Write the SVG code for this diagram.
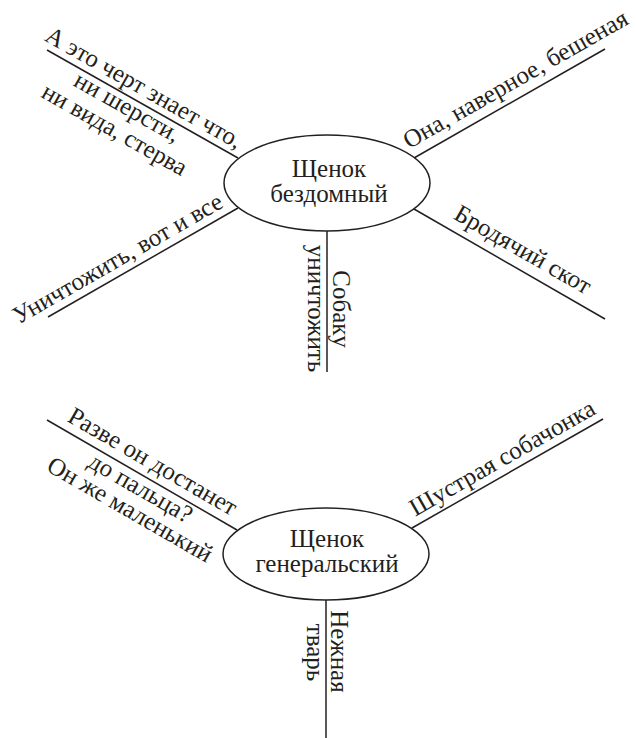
<svg xmlns="http://www.w3.org/2000/svg" width="636" height="738" viewBox="0 0 636 738" font-family="'Liberation Serif', 'Times New Roman', 'DejaVu Serif', serif" font-size="25">
<style>
  .bg { fill: #ffffff; }
  .node { fill: #ffffff; stroke: #231f20; stroke-width: 1.5; }
  .conn { stroke: #231f20; stroke-width: 1.5; fill: none; }
  .t { font-family: 'Liberation Serif', 'Times New Roman', 'DejaVu Serif', serif; font-size: 25px; fill: #231f20; text-anchor: middle; }
</style>
<rect class="bg" x="0" y="0" width="636" height="738"/>
<g id="connectors">
  <line class="conn" x1="47" y1="50" x2="238" y2="158"/>
  <line class="conn" x1="414" y1="158" x2="605" y2="49"/>
  <line class="conn" x1="238" y1="208" x2="48" y2="317"/>
  <line class="conn" x1="414" y1="209" x2="605" y2="319"/>
  <line class="conn" x1="327" y1="231" x2="327" y2="372"/>
  <line class="conn" x1="47" y1="420" x2="237" y2="530"/>
  <line class="conn" x1="412" y1="528" x2="603" y2="419"/>
  <line class="conn" x1="326" y1="600" x2="326" y2="738"/>
</g>
<g id="node-bezdomny">
  <ellipse class="node" cx="327" cy="183" rx="103" ry="48"/>
  <text class="t" x="329" y="177">Щенок</text>
  <text class="t" x="329" y="202">бездомный</text>
</g>
<g id="node-generalsky">
  <ellipse class="node" cx="326" cy="554" rx="103" ry="46"/>
  <text class="t" x="327" y="547">Щенок</text>
  <text class="t" x="327" y="572">генеральский</text>
</g>
<g id="labels">
  <text class="t" transform="translate(140,94.6) rotate(29.5)">А это черт знает что,</text>
  <text class="t" transform="translate(123.5,114) rotate(29.5)">ни шерсти,</text>
  <text class="t" transform="translate(110.7,136.5) rotate(29.5)">ни вида, стерва</text>
  <text class="t" transform="translate(519.4,86.3) rotate(-29.7)">Она, наверное, бешеная</text>
  <text class="t" transform="translate(121.5,265.6) rotate(-29.8)">Уничтожить, вот и все</text>
  <text class="t" transform="translate(519,256.6) rotate(29.9)">Бродячий скот</text>
  <text class="t" transform="translate(333,309) rotate(90)">Собаку</text>
  <text class="t" transform="translate(308,308.5) rotate(90)">уничтожить</text>
  <text class="t" transform="translate(148.7,468.5) rotate(30)">Разве он достанет</text>
  <text class="t" transform="translate(136.5,494.9) rotate(30)">до пальца?</text>
  <text class="t" transform="translate(125.9,516.5) rotate(30)">Он же маленький</text>
  <text class="t" transform="translate(506.2,465) rotate(-29.7)">Шустрая собачонка</text>
  <text class="t" transform="translate(331,651.5) rotate(90)">Нежная</text>
  <text class="t" transform="translate(307,652.5) rotate(90)">тварь</text>
</g>
</svg>
